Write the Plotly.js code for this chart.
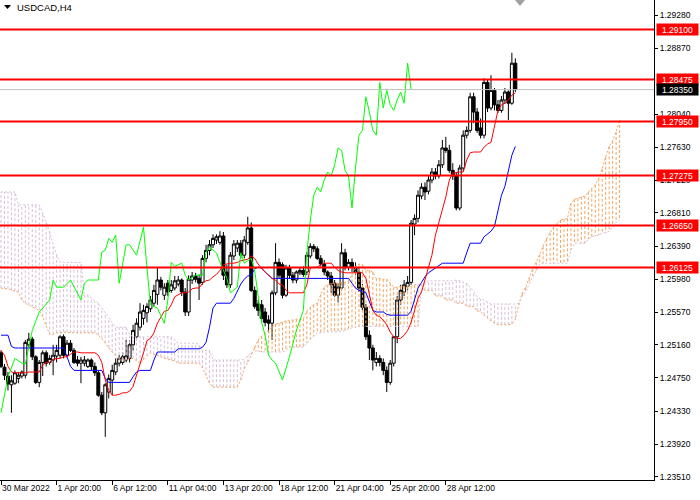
<!DOCTYPE html>
<html><head><meta charset="utf-8">
<script src="https://cdn.plot.ly/plotly-3.0.1.min.js"></script>
<style>html,body{margin:0;padding:0;background:#fff}#chart{width:700px;height:500px}</style>
</head><body><div id="chart"></div>
<script>
// ---- H4 candles (bar index 0 = 30 Mar 2022) ----
const open = [
1.2506,1.2488,1.2477,1.2466,1.2468,1.2474,1.2477,1.2478,1.2516,1.2523,
1.2501,1.2469,1.2494,1.2506,1.2494,1.2497,1.2502,1.2503,1.2526,1.2503,
1.2518,1.2509,1.2497,1.2493,1.2493,1.2489,1.2497,1.2489,1.2481,1.2453,
1.2431,1.2457,1.2472,1.2482,1.2493,1.2494,1.2497,1.2499,1.2516,1.2526,
1.2538,1.2549,1.2556,1.2561,1.2568,1.2579,1.2597,1.2578,1.2593,1.2584,
1.2587,1.2592,1.2597,1.2582,1.2557,1.2597,1.2602,1.2599,1.2594,1.2624,
1.2634,1.2641,1.2647,1.2644,1.2652,1.2607,1.2591,1.2627,1.2637,1.2643,
1.2628,1.2644,1.2662,1.2584,1.2567,1.2566,1.2557,1.2547,1.2543,1.2581,
1.2619,1.2616,1.2578,1.2612,1.2603,1.2597,1.2606,1.2609,1.2607,1.2627,
1.2639,1.2636,1.2624,1.2617,1.2607,1.2602,1.2593,1.2578,1.2587,1.2631,
1.2613,1.2619,1.2612,1.2607,1.2587,1.2563,1.2528,1.2512,1.2494,1.2499,
1.2494,1.2484,1.2469,1.2493,1.2526,1.2572,1.2582,1.2589,1.2594,1.2667,
1.2674,1.2702,1.2713,1.2708,1.2722,1.2732,1.2727,1.2741,1.2762,1.2759,
1.2734,1.2727,1.2687,1.2737,1.2778,1.2784,1.2826,1.2807,1.2787,1.2778,
1.2844,1.2812,1.2834,1.2816,1.2809,1.2822,1.2832,1.2818,1.2868];
const high = [
1.2509,1.2492,1.2482,1.2478,1.2484,1.2482,1.2484,1.2522,1.2531,1.2526,
1.2503,1.2497,1.2509,1.2509,1.2503,1.2516,1.2516,1.2528,1.2529,1.2522,
1.2522,1.2512,1.2502,1.2501,1.2502,1.2499,1.2499,1.2494,1.2484,1.2457,
1.2468,1.2479,1.2491,1.2499,1.2503,1.2507,1.2522,1.2522,1.2541,1.2549,
1.2568,1.2566,1.2568,1.2577,1.2591,1.2612,1.2601,1.2593,1.2597,1.2597,
1.2602,1.2602,1.2599,1.2587,1.2603,1.2607,1.2606,1.2604,1.2628,1.2641,
1.2647,1.2654,1.2654,1.2658,1.2657,1.2616,1.2632,1.2647,1.2647,1.2647,
1.2652,1.2676,1.2669,1.2589,1.2572,1.2572,1.2562,1.2553,1.2584,1.2643,
1.2624,1.2619,1.2616,1.2616,1.2607,1.2609,1.2613,1.2614,1.2632,1.2643,
1.2642,1.2639,1.2628,1.2622,1.2609,1.2607,1.2597,1.2593,1.2643,1.2636,
1.2623,1.2624,1.2619,1.2612,1.2592,1.2567,1.2534,1.2516,1.2507,1.2503,
1.2499,1.2489,1.2497,1.2527,1.2577,1.2591,1.2597,1.2602,1.2672,1.2679,
1.2709,1.2718,1.2719,1.2727,1.2737,1.2737,1.2747,1.2772,1.2776,1.2766,
1.2743,1.2732,1.2741,1.2784,1.2789,1.2831,1.2831,1.2812,1.2799,1.2849,
1.2847,1.2853,1.2837,1.2822,1.2827,1.2837,1.2834,1.2881,1.2874];
const low = [
1.2487,1.2472,1.2459,1.2431,1.2466,1.2468,1.2474,1.2474,1.2512,1.2497,
1.2467,1.2463,1.2477,1.2489,1.2491,1.2478,1.2494,1.2499,1.2499,1.2501,
1.2507,1.2492,1.2489,1.2468,1.2489,1.2487,1.2484,1.2477,1.2451,1.2428,
1.2401,1.2449,1.2453,1.2478,1.2489,1.2491,1.2494,1.2494,1.2509,1.2522,
1.2534,1.2541,1.2544,1.2557,1.2564,1.2566,1.2584,1.2572,1.2577,1.2581,
1.2584,1.2589,1.2577,1.2552,1.2552,1.2592,1.2594,1.2572,1.2591,1.2619,
1.2628,1.2637,1.2642,1.2641,1.2597,1.2587,1.2587,1.2622,1.2632,1.2624,
1.2624,1.2641,1.2582,1.2561,1.2552,1.2544,1.2539,1.2531,1.2522,1.2578,
1.2599,1.2574,1.2576,1.2599,1.2593,1.2593,1.2603,1.2601,1.2603,1.2624,
1.2632,1.2622,1.2614,1.2603,1.2597,1.2581,1.2576,1.2569,1.2584,1.2609,
1.2609,1.2607,1.2603,1.2582,1.2559,1.2522,1.2497,1.2484,1.2489,1.2489,
1.2478,1.2457,1.2466,1.2489,1.2518,1.2566,1.2577,1.2584,1.2591,1.2653,
1.2669,1.2698,1.2697,1.2704,1.2718,1.2723,1.2724,1.2737,1.2756,1.2731,
1.2722,1.2684,1.2684,1.2733,1.2774,1.2781,1.2793,1.2781,1.2774,1.2774,
1.2807,1.2809,1.2809,1.2806,1.2806,1.2817,1.2797,1.2816,1.2832];
const close = [
1.2489,1.2478,1.2467,1.2471,1.2481,1.2478,1.2482,1.2519,1.2523,1.2501,
1.2469,1.2494,1.2506,1.2493,1.2499,1.2503,1.2509,1.2526,1.2503,1.2518,
1.2509,1.2494,1.2493,1.2497,1.2497,1.2497,1.2489,1.2481,1.2453,1.2431,
1.2466,1.2474,1.2484,1.2493,1.2499,1.2501,1.2502,1.2516,1.2534,1.2543,
1.2557,1.2559,1.2564,1.2572,1.2584,1.2597,1.2588,1.2588,1.2582,1.2591,
1.2596,1.2597,1.2582,1.2557,1.2598,1.2602,1.2598,1.2593,1.2624,1.2634,
1.2641,1.2649,1.2651,1.2652,1.2603,1.2591,1.2628,1.2642,1.2643,1.2628,
1.2647,1.2662,1.2584,1.2564,1.2559,1.2549,1.2544,1.2543,1.2581,1.2619,
1.2603,1.2578,1.2612,1.2603,1.2597,1.2607,1.2609,1.2604,1.2628,1.2639,
1.2636,1.2624,1.2617,1.2607,1.2602,1.2591,1.2578,1.2588,1.2631,1.2613,
1.2619,1.2613,1.2607,1.2587,1.2563,1.2526,1.2512,1.2497,1.2499,1.2494,
1.2484,1.2469,1.2493,1.2526,1.2572,1.2584,1.2591,1.2594,1.2668,1.2674,
1.2703,1.2713,1.2707,1.2722,1.2732,1.2727,1.2741,1.2762,1.2759,1.2734,
1.2727,1.2687,1.2737,1.2778,1.2784,1.2826,1.2807,1.2784,1.2778,1.2844,
1.2812,1.2834,1.2816,1.2809,1.2822,1.2832,1.2818,1.2868,1.2835];

// ---- Ichimoku lines ----
const tenkan = [
1.2509,1.2503,1.2489,1.2482,1.2481,1.2481,1.2481,1.2481,1.2482,1.2482,
1.2482,1.2482,1.2491,1.2494,1.2494,1.2498,1.2499,1.2499,1.2501,1.2501,
1.2504,1.2507,1.2507,1.2506,1.2506,1.2506,1.2506,1.2506,1.2503,1.2494,
1.2472,1.2459,1.2453,1.2453,1.2454,1.2456,1.2456,1.2458,1.2464,1.2477,
1.2492,1.2506,1.2521,1.2524,1.2531,1.2543,1.2551,1.2558,1.2559,1.2566,
1.2576,1.2578,1.2581,1.2581,1.2582,1.2586,1.2587,1.2587,1.2593,1.2596,
1.2597,1.2601,1.2604,1.2609,1.2616,1.2617,1.2618,1.2618,1.2619,1.2621,
1.2622,1.2623,1.2627,1.2624,1.2617,1.2611,1.2607,1.2603,1.2599,1.2597,
1.2592,1.2591,1.2584,1.2581,1.2581,1.2581,1.2581,1.2581,1.2591,1.2612,
1.2613,1.2613,1.2616,1.2618,1.2618,1.2618,1.2613,1.2609,1.2607,1.2606,
1.2606,1.2606,1.2606,1.2606,1.2606,1.2599,1.2578,1.2559,1.2553,1.2551,
1.2547,1.2541,1.2532,1.2526,1.2524,1.2524,1.2528,1.2534,1.2544,1.2559,
1.2574,1.2582,1.2597,1.2612,1.2628,1.2653,1.2669,1.2687,1.2701,1.2722,
1.2731,1.2731,1.2732,1.2732,1.2747,1.2756,1.2757,1.2757,1.2757,1.2763,
1.2767,1.2769,1.2791,1.2809,1.2816,1.2818,1.2822,1.2828,1.2831];
const kijun = [
1.2528,1.2528,1.2528,1.2514,1.2512,1.2512,1.2512,1.2512,1.2512,1.2512,
1.2512,1.2512,1.2512,1.2512,1.2512,1.2512,1.2512,1.2512,1.2512,1.2501,
1.2489,1.2484,1.2484,1.2484,1.2484,1.2484,1.2484,1.2484,1.2484,1.2484,
1.2474,1.2469,1.2469,1.2469,1.2469,1.2469,1.2469,1.2469,1.2476,1.2482,
1.2484,1.2484,1.2484,1.2484,1.2497,1.2507,1.2507,1.2507,1.2507,1.2507,
1.2507,1.2511,1.2511,1.2511,1.2511,1.2511,1.2511,1.2511,1.2513,1.2519,
1.2538,1.2562,1.2568,1.2568,1.2568,1.2568,1.2568,1.2574,1.2583,1.2592,
1.2598,1.2602,1.2603,1.2611,1.2613,1.2612,1.2607,1.2603,1.2599,1.2599,
1.2599,1.2599,1.2599,1.2599,1.2599,1.2599,1.2599,1.2599,1.2599,1.2599,
1.2599,1.2599,1.2599,1.2599,1.2599,1.2599,1.2599,1.2599,1.2599,1.2599,
1.2599,1.2593,1.2587,1.2584,1.2583,1.2581,1.2569,1.2559,1.2557,1.2557,
1.2557,1.2554,1.2553,1.2553,1.2553,1.2553,1.2553,1.2553,1.2558,1.2572,
1.2587,1.2594,1.2601,1.2606,1.2609,1.2613,1.2616,1.2618,1.2618,1.2618,
1.2618,1.2618,1.2618,1.2618,1.2631,1.2643,1.2643,1.2643,1.2643,1.2651,
1.2654,1.2658,1.2664,1.2682,1.2703,1.2714,1.2734,1.2753,1.2764];
const chikouBar = [0,2,4,6,7,8,9,11,14,15,16,18,20,23,24,25,28,29,30,31,32,33,34,36,37,39,41,42,43,45,47,48,49,50,52,53,54,56,58,59,60,62,63,65,66,68,69,70,72,73,74,75,76,77,78,79,81,83,85,87,88,89,90,91,92,93,94,95,96,97,98,99,100,101,102,103,104,105,106,107,108,109,110,111,112,113,114,115,116,117,118];
const chikouVal = [1.2431,1.2476,1.2499,1.2493,1.2492,1.2513,1.2534,1.2557,1.2572,1.2597,1.2588,1.2588,1.2597,1.2572,1.2593,1.2597,1.2597,1.2632,1.2634,1.2649,1.2644,1.2653,1.2593,1.2641,1.2641,1.2628,1.2663,1.2612,1.2566,1.2562,1.2543,1.2572,1.2619,1.2614,1.2618,1.2603,1.2597,1.2603,1.2603,1.2632,1.2638,1.2631,1.2619,1.2599,1.2581,1.2588,1.2631,1.2618,1.2624,1.2609,1.2578,1.2544,1.2528,1.2503,1.2497,1.2493,1.2472,1.2501,1.2534,1.2559,1.2631,1.2672,1.2703,1.2713,1.2707,1.2722,1.2732,1.2727,1.2741,1.2762,1.2759,1.2734,1.2727,1.2687,1.2737,1.2778,1.2784,1.2826,1.2807,1.2784,1.2778,1.2844,1.2812,1.2834,1.2816,1.2809,1.2822,1.2832,1.2818,1.2868,1.2835];
const spanA = [
1.2587,1.2586,1.2586,1.2584,1.2583,1.2582,1.2572,1.2568,1.2566,1.2563,
1.2562,1.2559,1.2551,1.2541,1.2529,1.2529,1.2531,1.2531,1.2532,1.2532,
1.2531,1.2531,1.2531,1.2531,1.2531,1.2531,1.2531,1.2531,1.2528,1.2524,
1.2518,1.2512,1.2507,1.2502,1.2497,1.2497,1.2497,1.2499,1.2499,1.2496,
1.2493,1.2497,1.2502,1.2506,1.2504,1.2503,1.2501,1.2499,1.2498,1.2497,
1.2496,1.2493,1.2493,1.2493,1.2493,1.2493,1.2493,1.2493,1.2487,1.2478,
1.2468,1.2463,1.2463,1.2463,1.2463,1.2463,1.2463,1.2463,1.2463,1.2472,
1.2486,1.2494,1.2504,1.2514,1.2522,1.2527,1.2531,1.2534,1.2539,1.2542,
1.2543,1.2544,1.2546,1.2546,1.2547,1.2548,1.2548,1.2549,1.2558,1.2563,
1.2566,1.2568,1.2579,1.2588,1.2591,1.2593,1.2593,1.2593,1.2594,1.2594,
1.2596,1.2604,1.2614,1.2617,1.2616,1.2609,1.2609,1.2607,1.2599,1.2599,
1.2598,1.2598,1.2593,1.2588,1.2588,1.2589,1.2589,1.2589,1.2589,1.2591,
1.2591,1.2591,1.2584,1.2584,1.2584,1.2577,1.2577,1.2577,1.2572,1.2572,
1.2572,1.2568,1.2568,1.2568,1.2564,1.2564,1.2564,1.2558,1.2558,1.2553,
1.2549,1.2546,1.2543,1.2541,1.2541,1.2541,1.2541,1.2542,1.2548,1.2566,
1.2581,1.2588,1.2599,1.2611,1.2619,1.2629,1.2639,1.2649,1.2656,1.2663,
1.2668,1.2672,1.2673,1.2674,1.2693,1.2698,1.2699,1.2701,1.2702,1.2707,
1.2711,1.2716,1.2724,1.2736,1.2751,1.2764,1.2771,1.2782,1.2797];
const spanB = [
1.2707,1.2707,1.2707,1.2707,1.2707,1.2691,1.2691,1.2691,1.2691,1.2691,
1.2691,1.2691,1.2681,1.2669,1.2657,1.2641,1.2628,1.2619,1.2619,1.2619,
1.2619,1.2619,1.2619,1.2619,1.2581,1.2578,1.2574,1.2571,1.2568,1.2562,
1.2556,1.2549,1.2543,1.2538,1.2538,1.2538,1.2538,1.2529,1.2526,1.2526,
1.2526,1.2526,1.2526,1.2526,1.2526,1.2526,1.2526,1.2526,1.2526,1.2526,
1.2522,1.2518,1.2518,1.2518,1.2518,1.2518,1.2518,1.2516,1.2509,1.2509,
1.2509,1.2497,1.2497,1.2497,1.2497,1.2497,1.2497,1.2497,1.2497,1.2497,
1.2498,1.2502,1.2506,1.2508,1.2508,1.2507,1.2507,1.2507,1.2507,1.2507,
1.2507,1.2507,1.2509,1.2513,1.2513,1.2513,1.2513,1.2513,1.2518,1.2522,
1.2527,1.2531,1.2531,1.2532,1.2532,1.2532,1.2532,1.2532,1.2533,1.2534,
1.2536,1.2537,1.2538,1.2539,1.2539,1.2539,1.2539,1.2539,1.2539,1.2539,
1.2539,1.2539,1.2539,1.2539,1.2539,1.2539,1.2539,1.2539,1.2539,1.2539,
1.2539,1.2592,1.2594,1.2596,1.2596,1.2596,1.2596,1.2596,1.2596,1.2596,
1.2596,1.2597,1.2596,1.2594,1.2593,1.2588,1.2583,1.2576,1.2573,1.2572,
1.2569,1.2567,1.2567,1.2567,1.2567,1.2567,1.2567,1.2567,1.2567,1.2568,
1.2577,1.2583,1.2592,1.2602,1.2609,1.2617,1.2618,1.2618,1.2618,1.2618,
1.2618,1.2618,1.2618,1.2618,1.2634,1.2643,1.2643,1.2643,1.2643,1.2648,
1.2651,1.2652,1.2653,1.2656,1.2656,1.2658,1.2664,1.2669,1.2672];

// ---- horizontal levels, axis ticks ----
const levels = [1.29100, 1.28475, 1.27950, 1.27275, 1.26650, 1.26125];
const bidPrice = 1.28350;
const yTickVals = [1.2928,1.2887,1.2804,1.2763,1.2722,1.2681,1.2639,1.2598,1.2557,1.2516,1.2475,1.2433,1.2392,1.2351];
const yTickText = ['1.29280','1.28870','1.28040','1.27630','1.27220','1.26810','1.26390','1.25980','1.25570','1.25160','1.24750','1.24330','1.23920','1.23510'];
const xTickBars = [0,16,32,48,64,80,96,112,128];
const xTickText = ['30 Mar 2022','1 Apr 20:00','6 Apr 12:00','11 Apr 04:00','13 Apr 20:00','18 Apr 12:00','21 Apr 04:00','25 Apr 20:00','28 Apr 12:00'];

const barIdx = close.map((_, i) => i);
const spanIdx = spanA.map((_, i) => i);

const upK = {x: [], y: []}, dnK = {x: [], y: []};
spanA.forEach((a, i) => {
  const b = spanB[i];
  const t = a >= b ? upK : dnK;
  t.x.push(i, i, null); t.y.push(a, b, null);
});

const ORANGE = '#F4A460', THISTLE = '#D8BFD8';
const traces = [
  {type: 'candlestick', x: barIdx, open: open, high: high, low: low, close: close,
   increasing: {line: {color: '#000', width: 1}, fillcolor: '#FFFFFF'},
   decreasing: {line: {color: '#000', width: 1}, fillcolor: '#000000'},
   whiskerwidth: 0, hoverinfo: 'skip'},
  {type: 'scatter', mode: 'lines', x: upK.x, y: upK.y, line: {color: ORANGE, width: 1, dash: '3px,2px'}, hoverinfo: 'skip'},
  {type: 'scatter', mode: 'lines', x: dnK.x, y: dnK.y, line: {color: THISTLE, width: 1, dash: '3px,2px'}, hoverinfo: 'skip'},
  {type: 'scatter', mode: 'lines', x: spanIdx, y: spanA, line: {color: ORANGE, width: 1, dash: '2px,2px'}, hoverinfo: 'skip'},
  {type: 'scatter', mode: 'lines', x: spanIdx, y: spanB, line: {color: THISTLE, width: 1, dash: '2px,2px'}, hoverinfo: 'skip'},
  {type: 'scatter', mode: 'lines', x: barIdx, y: kijun, line: {color: '#0000FF', width: 1}, hoverinfo: 'skip'},
  {type: 'scatter', mode: 'lines', x: barIdx, y: tenkan, line: {color: '#FF0000', width: 1}, hoverinfo: 'skip'},
  {type: 'scatter', mode: 'lines', x: chikouBar, y: chikouVal, line: {color: '#00FF00', width: 1}, hoverinfo: 'skip'}
];

const PW = 654, PH = 480;
const shapes = levels.map(v => ({type: 'line', xref: 'paper', x0: 0, x1: 1, yref: 'y', y0: v, y1: v, line: {color: '#FF0000', width: 2}}));
shapes.unshift({type: 'line', xref: 'paper', x0: 0, x1: 1, yref: 'y', y0: bidPrice, y1: bidPrice, line: {color: '#C0C0C0', width: 1}});
shapes.push({type: 'path', xref: 'paper', yref: 'paper', fillcolor: '#000', line: {width: 0},
  path: `M ${4/PW},${1-5/PH} L ${11/PW},${1-5/PH} L ${7.5/PW},${1-9/PH} Z`});
shapes.push({type: 'path', xref: 'paper', yref: 'paper', fillcolor: '#A0A0A0', line: {width: 0},
  path: `M ${515/PW},${1} L ${525/PW},${1} L ${520/PW},${1-6/PH} Z`});

const FONT = 'Liberation Sans, Arial, sans-serif';
const annotations = levels.map(v => ({
  xref: 'paper', x: 1, xanchor: 'left', xshift: 2, yref: 'y', y: v, yanchor: 'middle',
  text: v.toFixed(5), showarrow: false, bgcolor: '#FF0000', font: {color: '#FFFFFF', size: 8.5, family: FONT},
  width: 39, height: 9, borderpad: 1, align: 'center', valign: 'middle'}));
annotations.push({xref: 'paper', x: 1, xanchor: 'left', xshift: 2, yref: 'y', y: bidPrice, yanchor: 'middle',
  text: bidPrice.toFixed(5), showarrow: false, bgcolor: '#000000', font: {color: '#FFFFFF', size: 8.5, family: FONT},
  width: 39, height: 9, borderpad: 1, align: 'center', valign: 'middle'});
annotations.push({xref: 'paper', yref: 'paper', x: 15/PW, y: 1, xanchor: 'left', yanchor: 'top', yshift: 0,
  text: 'USDCAD,H4', showarrow: false, font: {size: 9.5, color: '#000', family: FONT}});

const layout = {
  width: 700, height: 500,
  margin: {l: 0, r: 46, t: 0, b: 20, pad: 0},
  paper_bgcolor: '#FFFFFF', plot_bgcolor: '#FFFFFF',
  showlegend: false, hovermode: false,
  font: {family: FONT, size: 8.5, color: '#000'},
  boxgap: 0.15, boxgroupgap: 0,
  xaxis: {range: [-0.29, 187.9], tickmode: 'array', tickvals: xTickBars, ticktext: xTickText, tickangle: 0,
    ticks: 'outside', ticklen: 4, tickcolor: '#000', tickwidth: 1, showline: true, linecolor: '#000', linewidth: 1,
    showgrid: false, zeroline: false, ticklabelposition: 'outside right',
    rangeslider: {visible: false}, fixedrange: true, tickfont: {size: 8.5, family: FONT, color: '#000'}},
  yaxis: {range: [1.2347, 1.2947], side: 'right', tickmode: 'array', tickvals: yTickVals, ticktext: yTickText,
    ticks: 'outside', ticklen: 3, tickcolor: '#000', tickwidth: 1, showline: true, linecolor: '#000', linewidth: 1,
    showgrid: false, zeroline: false, fixedrange: true, tickfont: {size: 8.5, family: FONT, color: '#000'}},
  shapes: shapes, annotations: annotations
};
Plotly.newPlot('chart', traces, layout, {staticPlot: true, displayModeBar: false});
</script></body></html>
